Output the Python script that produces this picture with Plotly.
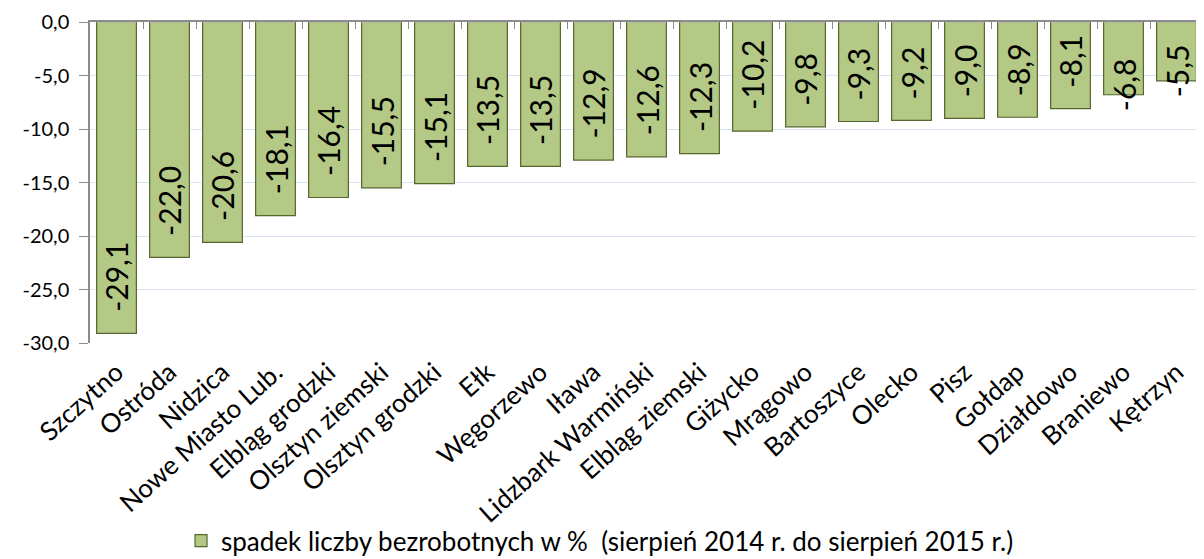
import plotly.graph_objects as go

powiaty = ['Szczytno', 'Ostróda', 'Nidzica', 'Nowe Miasto Lub.', 'Elbląg grodzki',
           'Olsztyn ziemski', 'Olsztyn grodzki', 'Ełk', 'Węgorzewo', 'Iława',
           'Lidzbark Warmiński', 'Elbląg ziemski', 'Giżycko', 'Mrągowo', 'Bartoszyce',
           'Olecko', 'Pisz', 'Gołdap', 'Działdowo', 'Braniewo', 'Kętrzyn']
spadek = [-29.1, -22.0, -20.6, -18.1, -16.4, -15.5, -15.1, -13.5, -13.5, -12.9,
          -12.6, -12.3, -10.2, -9.8, -9.3, -9.2, -9.0, -8.9, -8.1, -6.8, -5.5]
y_ticks = [0, -5, -10, -15, -20, -25, -30]
nazwa = 'spadek liczby bezrobotnych w %  (sierpień 2014 r. do sierpień 2015 r.)'

font = 'Lato, Calibri, sans-serif'

def pl(v):
    # polish decimal comma, plain hyphen as minus
    return ('%.1f' % v).replace('.', ',')

y_text = [pl(v) for v in y_ticks]

fig = go.Figure()
fig.add_trace(go.Bar(x=powiaty, y=spadek, name=nazwa,
                     marker=dict(color='#b3c985', line=dict(color='#56662e', width=1.2))))
# dummy trace so the top axis (line + ticks at zero) gets drawn
fig.add_trace(go.Bar(x=powiaty, y=[0] * len(powiaty), xaxis='x2', showlegend=False,
                     hoverinfo='skip', marker=dict(color='rgba(0,0,0,0)')))

# value labels, excel style "inside end"; short bars get the label across the end
for p, v in zip(powiaty, spadek):
    if v <= -8:
        fig.add_annotation(x=p, y=v, text=pl(v), textangle=-90, showarrow=False,
                           yanchor='bottom', yshift=19,
                           font=dict(family=font, size=30, color='black'))
    else:
        fig.add_annotation(x=p, y=v, text=pl(v), textangle=-90, showarrow=False,
                           yanchor='middle', yshift=10,
                           font=dict(family=font, size=30, color='black'))

# page body has an 8px margin, so the figure is 8px smaller each way
fig.update_layout(
    width=1196, height=551,
    margin=dict(l=82, r=1, t=14, b=216, autoexpand=False),
    plot_bgcolor='white', paper_bgcolor='white',
    bargap=0.25,
    font=dict(family=font, size=18, color='black'),
    showlegend=True,
    legend=dict(orientation='h', xref='container', yref='container',
                x=0.495, xanchor='center', y=0.033, yanchor='middle',
                bgcolor='rgba(0,0,0,0)',
                font=dict(size=26, family=font), itemwidth=30),
    xaxis=dict(tickangle=-42, showline=False, ticks='', showgrid=False,
               automargin=False, ticklabelstandoff=8,
               tickfont=dict(size=26, family=font)),
    xaxis2=dict(overlaying='x', side='top', matches='x', showticklabels=False,
                showline=True, linecolor='#8c8c8c', linewidth=1.5, automargin=False,
                ticks='inside', ticklen=7, tickcolor='#8c8c8c', tickson='boundaries',
                showgrid=False),
    yaxis=dict(range=[-30, 0], tickvals=y_ticks, ticktext=y_text,
               showgrid=True, gridcolor='#d9e2f1', gridwidth=1.2, automargin=False,
               zeroline=False, showline=True, linecolor='#8c8c8c', linewidth=1.5,
               ticks='outside', ticklen=9, tickcolor='#8c8c8c', ticklabelstandoff=6,
               ticklabeloverflow='allow',
               tickfont=dict(size=20, family=font)),
)

fig.write_html('out.html')
